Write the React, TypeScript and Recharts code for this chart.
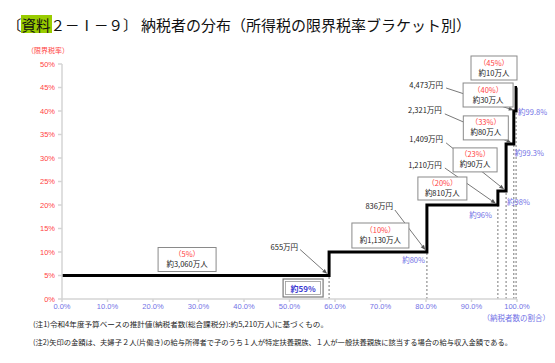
import React from 'react';
import { LineChart, Line, XAxis, YAxis, ReferenceLine, ReferenceDot } from 'recharts';

// step boundaries on the cumulative taxpayer share axis (%)
const shareBreaks = [0, 58.7, 80.2, 95.8, 97.6, 99.3, 99.8, 100];
// marginal rate that starts at each boundary (%)
const marginalRates = [5, 10, 20, 23, 33, 40, 45, 45];
const bracketLabels = ['（5%）', '（10%）', '（20%）', '（23%）', '（33%）', '（40%）', '（45%）'];
const taxpayerCounts = ['約3,060万人', '約1,130万人', '約810万人', '約90万人', '約80万人', '約30万人', '約10万人'];
const incomeThresholds = ['655万円', '836万円', '1,210万円', '1,409万円', '2,321万円', '4,473万円'];
const cumulativeLabels = ['約59%', '約80%', '約96%', '約98%', '約99.3%', '約99.8%'];
const xTicks = [0, 10, 20, 30, 40, 50, 60, 70, 80, 90, 100];
const yTicks = [0, 5, 10, 15, 20, 25, 30, 35, 40, 45, 50];

const stepData = shareBreaks.map((share, i) => ({ share, rate: marginalRates[i] }));

const JP = '"Noto Sans CJK JP", "Noto Sans", sans-serif';
const RED = '#ff4343';
const BLUE = '#7272e6';

// pixel offsets of each note relative to its step corner
const noteLayout = [
  { tx: -31, ty: -29, ax: -29, ay: -26, bx: -142, by: -16, bw: 58, bh: 24, cx: -26, cy: 12.5, anchor: 'box' },
  { tx: -34, ty: -47, ax: -32, ay: -42, bx: -46.5, by: -16.5, bw: 57, bh: 25, cx: -2, cy: 7, anchor: 'end' },
  { tx: -56, ty: -41, ax: -53, ay: -37, bx: -55.5, by: -16.5, bw: 49, bh: 23, cx: -6, cy: 9, anchor: 'end' },
  { tx: -63, ty: -52, ax: -60, ay: -48, bx: -31, by: -31, bw: 44, bh: 24, cx: 1, cy: 11, anchor: 'start' },
  { tx: -72, ty: -34, ax: -69, ay: -30, bx: -28, by: -16, bw: 45, bh: 24, cx: 1, cy: 9, anchor: 'start' },
  { tx: -73, ty: -27, ax: -70, ay: -23, bx: -28, by: -16, bw: 50, bh: 24, cx: 2, cy: 0, anchor: 'start' },
];

const Arrow = ({ x1, y1, x2, y2 }: any) => {
  const a = Math.atan2(y2 - y1, x2 - x1);
  const c = Math.cos(a);
  const s = Math.sin(a);
  const bx = x2 - 5 * c;
  const by = y2 - 5 * s;
  return (
    <g>
      <line x1={x1} y1={y1} x2={bx} y2={by} stroke="#555" strokeWidth={0.8} />
      <polygon
        points={`${x2},${y2} ${bx + 2 * s},${by - 2 * c} ${bx - 2 * s},${by + 2 * c}`}
        fill="#555"
      />
    </g>
  );
};

const BracketBox = ({ x, y, w, h, idx }: any) => (
  <g>
    <rect x={x - w / 2} y={y - h / 2} width={w} height={h} fill="#fff" stroke="#8a8a8a" strokeWidth={1} />
    <text x={x} y={y - 6} textAnchor="middle" dominantBaseline="central" fontSize={7.5} fill={RED} fontFamily={JP}>
      {bracketLabels[idx]}
    </text>
    <text x={x} y={y + 4} textAnchor="middle" dominantBaseline="central" fontSize={7.5} fill="#222" fontFamily={JP}>
      {taxpayerCounts[idx]}
    </text>
  </g>
);

const CornerNote = ({ cx, cy, idx }: any) => {
  if (cx == null || cy == null) return null;
  const l = noteLayout[idx];
  const len = Math.hypot(l.ax, l.ay);
  const ex = cx + (l.ax / len) * 2.5;
  const ey = cy + (l.ay / len) * 2.5;
  return (
    <g>
      <text x={cx + l.tx} y={cy + l.ty} textAnchor="end" dominantBaseline="central" fontSize={7.5} fill="#222" fontFamily={JP}>
        {incomeThresholds[idx]}
      </text>
      <Arrow x1={cx + l.ax} y1={cy + l.ay} x2={ex} y2={ey} />
      <BracketBox x={cx + l.bx} y={cy + l.by} w={l.bw} h={l.bh} idx={idx} />
      {l.anchor === 'box' ? (
        <g>
          <rect x={cx + l.cx - 20} y={cy + l.cy - 9} width={40} height={18} fill="#fff" stroke="#7a7a7a" strokeWidth={1.2} />
          <rect x={cx + l.cx - 17.5} y={cy + l.cy - 6.5} width={35} height={13} fill="none" stroke="#9a9a9a" strokeWidth={0.8} />
          <text x={cx + l.cx} y={cy + l.cy} textAnchor="middle" dominantBaseline="central" fontSize={8} fontWeight="bold" fill="#3c3cd2" fontFamily={JP}>
            {cumulativeLabels[idx]}
          </text>
        </g>
      ) : (
        <text x={cx + l.cx} y={cy + l.cy} textAnchor={l.anchor} dominantBaseline="central" fontSize={7.5} fill={BLUE} fontFamily={JP}>
          {cumulativeLabels[idx]}
        </text>
      )}
    </g>
  );
};

const TopNote = ({ cx, cy }: any) => {
  if (cx == null || cy == null) return null;
  return <BracketBox x={cx - 23} y={cy - 19.5} w={46} h={24} idx={6} />;
};

export default function App() {
  return (
    <div style={{ position: 'absolute', left: 0, top: 0, width: 555, height: 363, background: '#fff' }}>
      <LineChart width={555} height={363} data={stepData} margin={{ top: 64, right: 38, left: 0, bottom: 0 }}>
        <XAxis
          type="number"
          dataKey="share"
          domain={[0, 100]}
          ticks={xTicks}
          tickFormatter={(v: number) => `${v.toFixed(1)}%`}
          height={64}
          stroke="#d4d4d4"
          strokeWidth={1.5}
          tickSize={3}
          tickMargin={2}
          tick={{ fill: BLUE, fontSize: 7.5, fontFamily: "'Liberation Sans', sans-serif" }}
        />
        <YAxis
          type="number"
          dataKey="rate"
          domain={[0, 50]}
          ticks={yTicks}
          tickFormatter={(v: number) => `${v}%`}
          width={62}
          stroke="#d4d4d4"
          strokeWidth={1.5}
          tickSize={4}
          tickMargin={3}
          tick={{ fill: RED, fontSize: 7.5, fontFamily: "'Liberation Sans', sans-serif" }}
        />
        {shareBreaks.slice(1, 7).map((s, i) => (
          <ReferenceLine
            key={`drop-${i}`}
            segment={[{ x: s, y: 0 }, { x: s, y: marginalRates[i] }]}
            stroke="#555"
            strokeWidth={0.8}
            strokeDasharray="2 2"
          />
        ))}
        <Line
          type="stepAfter"
          dataKey="rate"
          stroke="#000"
          strokeWidth={3}
          dot={false}
          isAnimationActive={false}
        />
        {shareBreaks.slice(1, 7).map((s, i) => (
          <ReferenceDot
            key={`note-${i}`}
            x={s}
            y={marginalRates[i]}
            r={1}
            shape={(p: any) => <CornerNote cx={p.cx} cy={p.cy} idx={i} />}
          />
        ))}
        <ReferenceDot
          x={shareBreaks[7]}
          y={marginalRates[7]}
          r={1}
          shape={(p: any) => <TopNote cx={p.cx} cy={p.cy} />}
        />
      </LineChart>
      <svg width={555} height={363} style={{ position: 'absolute', left: 0, top: 0, pointerEvents: 'none' }}>
        <rect x={21} y={15} width={31} height={18} fill="#99cc00" />
        <text x={7} y={24} dominantBaseline="central" fontSize={14.5} fill="#111" fontFamily={JP}>
          〔資料２－Ⅰ－９〕
        </text>
        <text x={141} y={24} dominantBaseline="central" fontSize={15} fill="#111" fontFamily={JP} textLength={330} lengthAdjust="spacingAndGlyphs">
          納税者の分布（所得税の限界税率ブラケット別）
        </text>
        <text x={27} y={50} dominantBaseline="central" fontSize={7} fill={RED} fontFamily={JP}>
          （限界税率）
        </text>
        <text x={550} y={317} textAnchor="end" dominantBaseline="central" fontSize={7.5} fill={BLUE} fontFamily={JP}>
          （納税者数の割合）
        </text>
        <text x={33} y={324} dominantBaseline="central" fontSize={7} fill="#222" fontFamily={JP} textLength={295} lengthAdjust="spacingAndGlyphs">
          (注1)令和4年度予算ベースの推計値(納税者数(総合課税分):約5,210万人)に基づくもの。
        </text>
        <text x={33} y={342} dominantBaseline="central" fontSize={7} fill="#222" fontFamily={JP} textLength={479} lengthAdjust="spacingAndGlyphs">
          (注2)矢印の金額は、夫婦子２人(片働き)の給与所得者で子のうち１人が特定扶養親族、１人が一般扶養親族に該当する場合の給与収入金額である。
        </text>
      </svg>
    </div>
  );
}
